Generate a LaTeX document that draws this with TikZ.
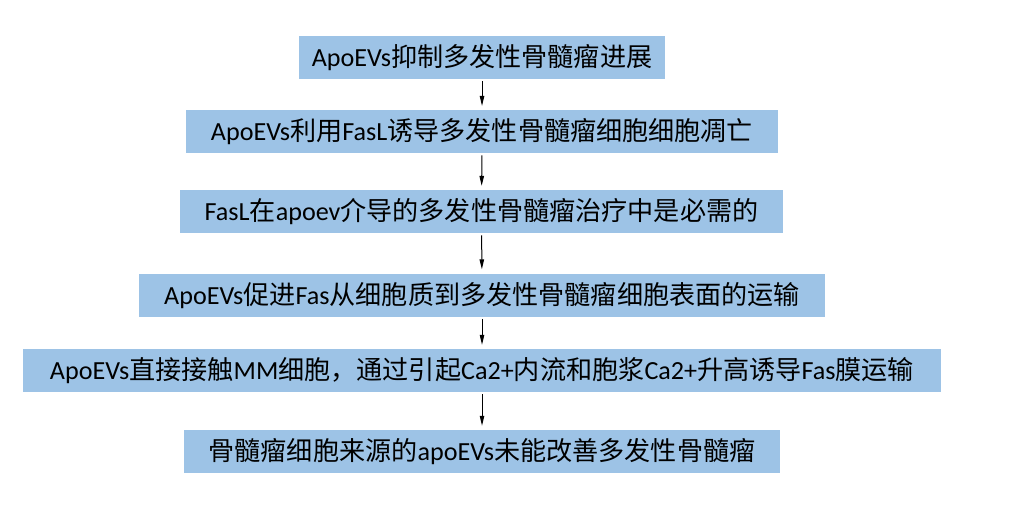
\documentclass[tikz,border=0pt]{standalone}
\usepackage{fontspec}
\setmainfont{Carlito}
\newfontfamily\cjk{Noto Sans CJK SC}
\usepackage{tikz}
\usetikzlibrary{arrows.meta}
\usepackage{xcolor}
\definecolor{stage}{HTML}{9DC3E6}
\newcommand{\zh}[1]{{\cjk #1}}

\begin{document}
\begin{tikzpicture}[x=0.75pt,y=-0.75pt,>={[inset=0,angle'=25]Stealth[length=7.5pt]},
		box/.style={fill=stage,inner sep=0pt,minimum height=32.25pt,font=\fontsize{19.6}{22}\selectfont}]
		%
		\draw [use as bounding box,color=white] (0,0) rectangle (1027,519);
		\begin{scope}
			\node[box,minimum width=275.25pt] (S1) at (482,57.5) {ApoEVs\zh{抑制多发性骨髓瘤进展}};
			\node[box,minimum width=444pt] (S2) at (482,131.5) {ApoEVs\zh{利用}FasL\zh{诱导多发性骨髓瘤细胞细胞凋亡}};
			\node[box,minimum width=452.25pt] (S3) at (481.5,211.5) {FasL\zh{在}apoev\zh{介导的多发性骨髓瘤治疗中是必需的}};
			\node[box,minimum width=514.5pt] (S4) at (482,295) {ApoEVs\zh{促进}Fas\zh{从细胞质到多发性骨髓瘤细胞表面的运输}};
			\node[box,minimum width=688.5pt] (S5) at (482,370.5) {ApoEVs\zh{直接接触}MM\zh{细胞，通过引起}Ca2+\zh{内流和胞浆}Ca2+\zh{升高诱导}Fas\zh{膜运输}};
			\node[box,minimum width=447pt] (S6) at (482,451.5) {\zh{骨髓瘤细胞来源的}apoEVs\zh{未能改善多发性骨髓瘤}};
			%
			\draw[->,line width=0.75pt,shorten <=1.5pt,shorten >=3pt] (S1) -- (S2);
			\draw[->,line width=0.75pt,shorten <=1.5pt,shorten >=3pt] (S2) -- (S3);
			\draw[->,line width=0.75pt,shorten <=1.5pt,shorten >=3pt] (S3) -- (S4);
			\draw[->,line width=0.75pt,shorten <=1.5pt,shorten >=3pt] (S4) -- (S5);
			\draw[->,line width=0.75pt,shorten <=1.5pt,shorten >=3pt] (S5) -- (S6);
		\end{scope}
		%
	\end{tikzpicture}
\end{document}
